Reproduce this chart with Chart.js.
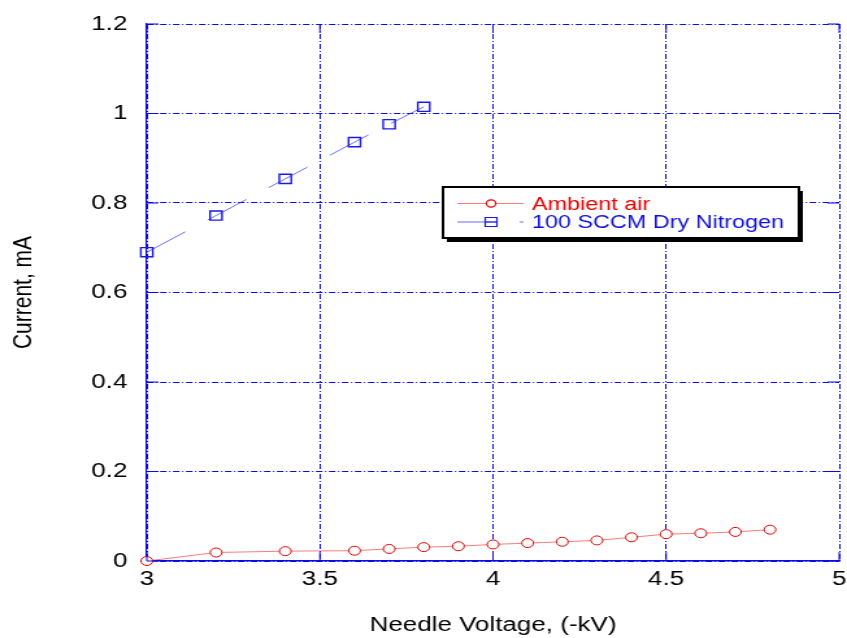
<!DOCTYPE html>
<html>
<head>
<meta charset="utf-8">
<title>Needle current vs voltage</title>
<script src="https://cdn.jsdelivr.net/npm/chart.js@4.4.0/dist/chart.umd.min.js"></script>
<style>
  html, body { margin: 0; padding: 0; background: #fff; overflow: hidden; }
  /* the plot is drawn narrow and widened, so glyphs and markers come out wide */
  #wrap { width: 652px; height: 638px; transform: scaleX(1.2991); transform-origin: 0 0; }
</style>
</head>
<body>
<div id="wrap"><canvas id="chart" width="652" height="638"></canvas></div>
<script>
// needle voltage (-kV) and discharge current (mA)
const voltsAir   = [3.0, 3.2, 3.4, 3.6, 3.7, 3.8, 3.9, 4.0, 4.1, 4.2, 4.3, 4.4, 4.5, 4.6, 4.7, 4.8];
const currentAir = [0.000, 0.019, 0.022, 0.023, 0.027, 0.031, 0.033, 0.037, 0.040, 0.043, 0.046, 0.053, 0.060, 0.062, 0.065, 0.070];
const voltsN2    = [3.0, 3.2, 3.4, 3.6, 3.7, 3.8];
const currentN2  = [0.690, 0.772, 0.854, 0.936, 0.976, 1.015];

const xTicks = [3, 3.5, 4, 4.5, 5];
const yTicks = [0, 0.2, 0.4, 0.6, 0.8, 1, 1.2];

const labelAir = 'Ambient air';
const labelN2 = '100 SCCM Dry Nitrogen';

const FONT = '"Liberation Sans", Arial, Helvetica, sans-serif';
const axisBlue = '#0a0ae6';

function toPoints(xs, ys) {
    return xs.map((x, i) => ({ x: x, y: ys[i] }));
}

// short tick marks on the inside of the frame
const innerTicks = {
    id: 'innerTicks',
    afterDatasetsDraw(chart) {
        const { ctx, chartArea: a, scales: { x, y } } = chart;
        const len = 9;
        ctx.save();
        ctx.strokeStyle = axisBlue;
        ctx.lineWidth = 1;
        ctx.beginPath();
        yTicks.forEach(v => {
            const py = y.getPixelForValue(v);
            ctx.moveTo(a.left, py); ctx.lineTo(a.left + len, py);
            ctx.moveTo(a.right, py); ctx.lineTo(a.right - len, py);
        });
        xTicks.forEach(v => {
            const px = x.getPixelForValue(v);
            ctx.moveTo(px, a.bottom); ctx.lineTo(px, a.bottom - len);
            ctx.moveTo(px, a.top); ctx.lineTo(px, a.top + len);
        });
        ctx.stroke();
        ctx.restore();
    }
};

// boxed legend with a drop shadow
const boxLegend = {
    id: 'boxLegend',
    afterDraw(chart) {
        const ctx = chart.ctx;
        const bx = 341, by = 187, bw = 274, bh = 51;
        ctx.save();
        ctx.fillStyle = '#000';
        ctx.fillRect(bx + 3, by + 4, bw, bh);
        ctx.fillStyle = '#fff';
        ctx.fillRect(bx, by, bw, bh);
        ctx.strokeStyle = '#000';
        ctx.lineWidth = 2;
        ctx.strokeRect(bx, by, bw, bh);

        const rows = [
            { ds: chart.data.datasets[0], y: 203.5, base: 209.5, text: '#e60000', dash: [] },
            { ds: chart.data.datasets[1], y: 222, base: 227.5, text: '#1010d8', dash: [31, 17] }
        ];
        rows.forEach(r => {
            ctx.save();
            ctx.strokeStyle = r.ds.borderColor;
            ctx.lineWidth = 1.2;
            ctx.setLineDash(r.dash);
            ctx.beginPath();
            ctx.moveTo(352, r.y);
            ctx.lineTo(403, r.y);
            ctx.stroke();
            ctx.restore();

            ctx.strokeStyle = r.ds.pointBorderColor;
            ctx.lineWidth = 1.2;
            ctx.fillStyle = '#fff';
            ctx.beginPath();
            if (r.ds.pointStyle === 'rect') {
                ctx.rect(378 - 4.5, r.y - 4.5, 9, 9);
                ctx.moveTo(378 - 4.5, r.y);
                ctx.lineTo(378 + 4.5, r.y);
            } else {
                ctx.arc(378, r.y, 3.6, 0, Math.PI * 2);
                ctx.fill();
            }
            ctx.stroke();

            ctx.fillStyle = r.text;
            ctx.font = '18px ' + FONT;
            ctx.textBaseline = 'alphabetic';
            ctx.textAlign = 'left';
            ctx.fillText(r.ds.label, 409.5, r.base);
        });
        ctx.restore();
    }
};

const ctx = document.getElementById('chart').getContext('2d');
new Chart(ctx, {
    type: 'line',
    data: {
        datasets: [{
            label: labelAir,
            data: toPoints(voltsAir, currentAir),
            clip: false,
            borderColor: 'rgba(240, 40, 40, 0.6)',
            borderWidth: 1,
            pointStyle: 'circle',
            pointRadius: 4.5,
            pointBorderWidth: 1,
            pointBorderColor: '#e60000',
            pointBackgroundColor: '#fff',
            tension: 0
        }, {
            label: labelN2,
            data: toPoints(voltsN2, currentN2),
            clip: false,
            borderColor: 'rgba(60, 60, 250, 0.75)',
            borderWidth: 1,
            borderDash: [36, 21],
            pointStyle: 'rect',
            pointRadius: 6.5,
            pointBorderWidth: 1.4,
            pointBorderColor: '#1a1ae0',
            pointBackgroundColor: 'rgba(0,0,0,0)',
            tension: 0
        }]
    },
    options: {
        responsive: false,
        animation: false,
        devicePixelRatio: 1,
        layout: { autoPadding: false, padding: { left: 0, right: 6, top: 24, bottom: 0 } },
        plugins: {
            legend: { display: false },
            tooltip: { enabled: false }
        },
        scales: {
            x: {
                type: 'linear',
                min: 3,
                max: 5,
                afterBuildTicks: s => { s.ticks = xTicks.map(v => ({ value: v })); },
                afterFit: s => {
                    s.height = 77;
                    s.paddingLeft = 0;
                    s.paddingRight = 0;
                },
                ticks: {
                    color: '#000',
                    font: { family: FONT, size: 20 },
                    padding: 6,
                    maxRotation: 0,
                    autoSkip: false,
                    callback: v => String(v)
                },
                grid: { color: axisBlue, lineWidth: 1, drawTicks: false },
                border: { color: axisBlue, width: 1.5, dash: [5, 2, 1, 2] },
                title: {
                    display: true,
                    text: 'Needle Voltage, (-kV)',
                    color: '#000',
                    font: { family: FONT, size: 20 },
                    padding: { top: 0, bottom: 1 }
                }
            },
            y: {
                type: 'linear',
                min: 0,
                max: 1.2,
                afterBuildTicks: s => { s.ticks = yTicks.map(v => ({ value: v })); },
                afterFit: s => {
                    s.width = 113;
                    s.paddingTop = 0;
                    s.paddingBottom = 0;
                },
                ticks: {
                    color: '#000',
                    font: { family: FONT, size: 20 },
                    padding: 15,
                    callback: v => String(v)
                },
                grid: { color: axisBlue, lineWidth: 1, drawTicks: false },
                border: { color: axisBlue, width: 1.2, dash: [5, 2, 1, 2] },
                title: {
                    display: true,
                    text: 'Current, mA',
                    color: '#000',
                    font: { family: FONT, size: 21 },
                    padding: { top: 6, bottom: 0 }
                }
            }
        }
    },
    plugins: [innerTicks, boxLegend]
});
</script>
</body>
</html>
